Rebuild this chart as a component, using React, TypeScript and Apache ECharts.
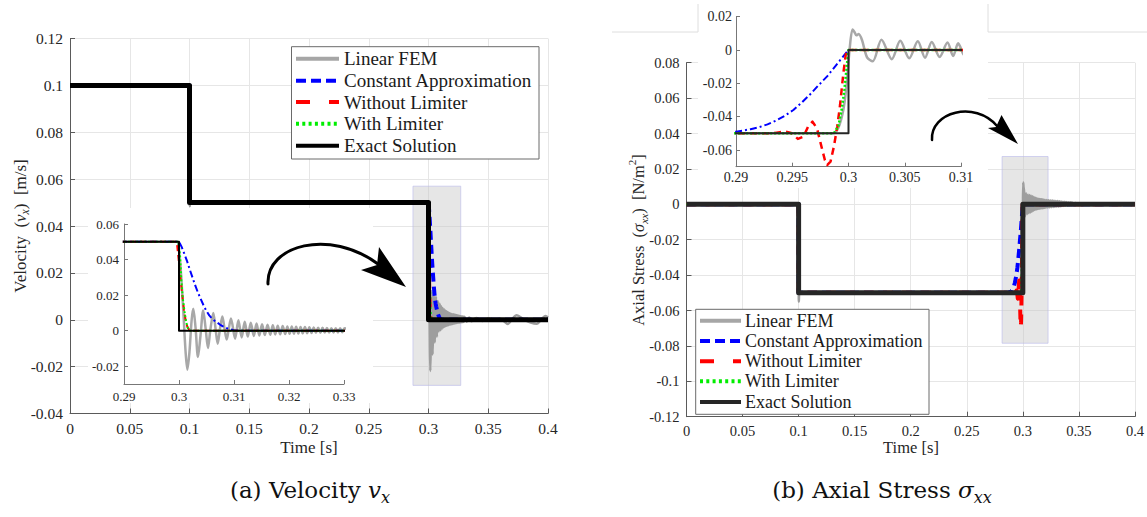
import React, { useEffect, useRef } from "react";
import * as echarts from "echarts";

const FONT = "'Liberation Serif', 'DejaVu Serif', serif";
const CAP_FONT = "'DejaVu Serif', 'Liberation Serif', serif";

// ---------- Data: Velocity v_x ----------
const velExact = [[0, 0.1], [0.1, 0.1], [0.1, 0.05], [0.3, 0.05], [0.3, 0], [0.4, 0]];
const velFEM = [
  [0, 0.1], [0.0998, 0.1], [0.1002, 0.0485], [0.1006, 0.0505], [0.101, 0.0497], [0.1015, 0.05],
  [0.2996, 0.05], [0.2999, 0.048], [0.3003, 0.035], [0.3008, 0.01], [0.3012, -0.012], [0.30152, -0.0219],
  [0.3019, -0.012], [0.3023, 0.006], [0.3026, 0.0123], [0.303, 0.002], [0.30345, -0.0148], [0.3039, -0.003],
  [0.3044, 0.0114], [0.30485, 0.001], [0.30527, -0.0097], [0.3057, 0.0005], [0.30624, 0.0099], [0.30665, 0.001],
  [0.30703, -0.0073], [0.30745, 0.001], [0.30788, 0.008], [0.30828, 0.001], [0.30867, -0.005], [0.30905, 0.001],
  [0.30945, 0.0069], [0.3102, -0.0045], [0.3108, 0.0058], [0.3114, -0.0038], [0.31195, 0.005], [0.3125, -0.0033],
  [0.31305, 0.0045], [0.3136, -0.003], [0.3141, 0.004], [0.3146, -0.0027], [0.3151, 0.0036], [0.3156, -0.0025],
  [0.3161, 0.0033], [0.3166, -0.0023], [0.31705, 0.003], [0.3175, -0.0021], [0.31795, 0.0028], [0.3184, -0.002],
  [0.31885, 0.0026], [0.3193, -0.0019], [0.3197, 0.0024], [0.3201, -0.0018], [0.3205, 0.0023], [0.3209, -0.0017],
  [0.3213, 0.0022], [0.3217, -0.0016], [0.3221, 0.0021], [0.3225, -0.0015], [0.3229, 0.002], [0.3233, -0.0014],
  [0.3237, 0.0019], [0.3241, -0.0013], [0.3245, 0.0018], [0.3249, -0.0012], [0.3253, 0.0017], [0.3257, -0.0012],
  [0.3261, 0.0016], [0.3265, -0.0011], [0.3269, 0.0015], [0.3273, -0.0011], [0.3277, 0.0014], [0.3281, -0.001],
  [0.3285, 0.0014], [0.3289, -0.001], [0.3293, 0.0013], [0.3297, -0.0009], [0.3301, 0.0013], [0.332, -0.0008],
  [0.334, 0.001], [0.336, -0.0006], [0.34, 0.0008], [0.345, -0.0005], [0.35, 0.0006], [0.355, 0], [0.36, 0.0004],
  [0.3665, -0.0018], [0.37, 0.0003], [0.3738, 0.0019], [0.38, 0], [0.3855, -0.0012], [0.3905, -0.0017],
  [0.395, 0.0005], [0.398, 0.0016], [0.4, 0.001],
];
const velConst = [
  [0, 0.1], [0.1, 0.1], [0.1, 0.05], [0.3, 0.05], [0.3005, 0.047], [0.301, 0.043], [0.3015, 0.0388],
  [0.302, 0.034], [0.3025, 0.0295], [0.303, 0.025], [0.3035, 0.021], [0.304, 0.0175], [0.3045, 0.014],
  [0.305, 0.011], [0.3055, 0.0086], [0.306, 0.0068], [0.3065, 0.0055], [0.307, 0.0044], [0.3075, 0.0033],
  [0.308, 0.0024], [0.3085, 0.0016], [0.309, 0.001], [0.31, 0.0003], [0.3112, 0], [0.4, 0],
];
const velNoLim = [
  [0, 0.1], [0.1, 0.1], [0.1, 0.05], [0.2996, 0.05], [0.2998, 0.044], [0.3, 0.038], [0.3003, 0.0286],
  [0.3006, 0.02], [0.3009, 0.0118], [0.3012, 0.006], [0.3015, 0.0024], [0.3018, 0.0008], [0.3021, 0], [0.4, 0],
];
const velLim = [
  [0, 0.1], [0.1, 0.1], [0.1, 0.05], [0.2999, 0.05], [0.3002, 0.042], [0.30042, 0.0286], [0.3007, 0.018],
  [0.301, 0.0108], [0.3013, 0.005], [0.3016, 0.0015], [0.302, 0], [0.4, 0],
];
const velZoomBox = [[0.287, -0.028], [0.327, 0.057]];

// ---------- Data: Axial stress sigma_xx ----------
const strExact = [[0, 0], [0.1, 0], [0.1, -0.05], [0.3, -0.05], [0.3, 0], [0.4, 0]];
const strFEM = [
  [0, 0], [0.0998, 0], [0.1002, -0.055], [0.1006, -0.0495], [0.101, -0.0503], [0.1015, -0.05],
  [0.2986, -0.05], [0.2991, -0.0466], [0.29955, -0.0356], [0.29985, -0.0195], [0.3001, 0.0006],
  [0.30036, 0.0123], [0.30054, 0.0107], [0.3007, 0.0088], [0.3009, 0.0096], [0.3012, 0.006],
  [0.30165, -0.0044], [0.30215, -0.0068], [0.30293, 0.0062], [0.30385, -0.0055], [0.3046, 0.0055],
  [0.3054, -0.005], [0.30616, 0.0052], [0.3068, -0.0046], [0.3074, 0.0048], [0.3081, -0.0042],
  [0.3088, 0.0045], [0.3093, -0.0036], [0.30975, 0.004], [0.3103, -0.0032], [0.3108, 0.0038],
  [0.3113, -0.003], [0.3118, 0.0035], [0.3123, -0.0028], [0.3128, 0.0033], [0.3133, -0.0026],
  [0.3138, 0.0031], [0.3143, -0.0025], [0.3148, 0.003], [0.3153, -0.0024], [0.3158, 0.0029],
  [0.3163, -0.0023], [0.3168, 0.0028], [0.3173, -0.0022], [0.3178, 0.0027], [0.3183, -0.0021],
  [0.3188, 0.0026], [0.3193, -0.002], [0.3198, 0.0025], [0.3206, -0.0019], [0.3214, 0.0024],
  [0.3222, -0.0018], [0.323, 0.0023], [0.3238, -0.0017], [0.3246, 0.0022], [0.3254, -0.0016],
  [0.3262, 0.0021], [0.327, -0.0015], [0.3278, 0.002], [0.3286, -0.0014], [0.3294, 0.0019],
  [0.3302, -0.0013], [0.331, 0.0018], [0.3318, -0.0012], [0.3326, 0.0017], [0.3334, -0.0011],
  [0.3342, 0.0016], [0.335, -0.001], [0.3358, 0.0015], [0.3366, -0.0009], [0.3374, 0.0014],
  [0.3382, -0.0008], [0.339, 0.0013], [0.3398, -0.0007], [0.3406, 0.0012], [0.3414, -0.0006],
  [0.3422, 0.0011], [0.343, -0.0005], [0.3438, 0.001], [0.345, -0.0004], [0.347, 0.0008],
  [0.35, -0.0003], [0.355, 0.0004], [0.36, 0], [0.4, 0],
];
const strConst = [
  [0, 0], [0.1, 0], [0.1, -0.05], [0.2865, -0.05], [0.288, -0.0496], [0.29, -0.049], [0.2906, -0.0483],
  [0.2913, -0.0475], [0.2921, -0.0462], [0.2928, -0.0446], [0.2936, -0.0422], [0.2943, -0.0396],
  [0.2951, -0.036], [0.2958, -0.0318], [0.2966, -0.0265], [0.2973, -0.0214], [0.2981, -0.0158],
  [0.2988, -0.0099], [0.2994, -0.0049], [0.3, 0], [0.4, 0],
];
const strNoLim = [
  [0, 0], [0.1, 0], [0.1, -0.05], [0.2925, -0.05], [0.2935, -0.0497], [0.2943, -0.0488], [0.2949, -0.0498],
  [0.2955, -0.0533], [0.296, -0.052], [0.2964, -0.046], [0.2968, -0.043], [0.2972, -0.047], [0.2976, -0.058],
  [0.2979, -0.066], [0.2981, -0.069], [0.2984, -0.067], [0.2987, -0.058], [0.299, -0.046], [0.29925, -0.033],
  [0.29955, -0.0135], [0.29975, -0.003], [0.2999, 0], [0.4, 0],
];
const strLim = [
  [0, 0], [0.1, 0], [0.1, -0.05], [0.2987, -0.05], [0.2991, -0.0456], [0.2994, -0.0356], [0.29964, -0.0235],
  [0.29985, -0.0094], [0.3, 0], [0.4, 0],
];
const strZoomBox = [[0.2815, -0.0785], [0.3225, 0.027]];

// ---------- Ticks and labels ----------
const velInsetXTicks = [0.29, 0.3, 0.31, 0.32, 0.33];
const velInsetYTicks = [-0.02, 0, 0.02, 0.04, 0.06];
const strInsetXTicks = [0.29, 0.295, 0.3, 0.305, 0.31];
const strInsetYTicks = [-0.06, -0.04, -0.02, 0, 0.02];
const legendNames = ["Linear FEM", "Constant Approximation", "Without Limiter", "With Limiter", "Exact Solution"];

const GRAY = "#9e9e9e";
const BLUE = "#0000ff";
const RED = "#ff0000";
const GREEN = "#00ee00";

const fmt = (v: number) => String(parseFloat(Number(v).toFixed(4)));

function mainX(gridIndex: number, fs: number) {
  return {
    type: "value", gridIndex, min: 0, max: 0.4, interval: 0.05,
    axisLine: { show: true, onZero: false, lineStyle: { color: "#5a5a5a", width: 1 } },
    axisTick: { show: true, inside: true, length: 5, lineStyle: { color: "#5a5a5a" } },
    axisLabel: { color: "#262626", fontFamily: FONT, fontSize: fs, margin: 7, formatter: fmt },
    splitLine: { show: true, lineStyle: { color: "#e6e6e6", width: 1 } },
  };
}
function mainY(gridIndex: number, min: number, max: number, fs: number) {
  return {
    type: "value", gridIndex, min, max, interval: 0.02,
    axisLine: { show: true, onZero: false, lineStyle: { color: "#5a5a5a", width: 1 } },
    axisTick: { show: true, inside: true, length: 5, lineStyle: { color: "#5a5a5a" } },
    axisLabel: { color: "#262626", fontFamily: FONT, fontSize: fs, margin: 7, formatter: fmt },
    splitLine: { show: true, lineStyle: { color: "#e6e6e6", width: 1 } },
  };
}
function insetAxis(gridIndex: number, min: number, max: number, ticks: number[], fs: number, margin: number) {
  return {
    type: "value", gridIndex, min, max, z: 3,
    axisLine: { show: true, onZero: false, lineStyle: { color: "#777", width: 1 } },
    axisTick: { show: true, inside: true, length: 4, customValues: ticks, lineStyle: { color: "#777" } },
    axisLabel: { color: "#262626", fontFamily: FONT, fontSize: fs, margin, customValues: ticks, formatter: fmt },
    splitLine: { show: false },
  };
}
function ln(data: number[][], idx: number, color: string, width: number, type: any, z: number, smooth: any = false) {
  return {
    type: "line", xAxisIndex: idx, yAxisIndex: idx, data, symbol: "none", showSymbol: false,
    smooth, z, silent: true, clip: true, animation: false,
    lineStyle: { color, width, type, cap: "butt", join: "round" },
    emphasis: { disabled: true },
  };
}
function boxSeries(idx: number, box: number[][]) {
  return {
    type: "line", xAxisIndex: idx, yAxisIndex: idx, data: [], z: 1, silent: true,
    markArea: {
      silent: true, label: { show: false },
      itemStyle: { color: "rgba(200,200,200,0.45)", borderColor: "rgba(185,185,235,0.6)", borderWidth: 1 },
      data: [[{ coord: box[0] }, { coord: box[1] }]],
    },
  };
}

function legendGraphics(x: number, y: number, w: number, h: number, rows: number[], sx1: number, sx2: number,
  tx: number, fs: number, black: string) {
  const styles = [
    { stroke: "#a6a6a6", lineDash: null },
    { stroke: BLUE, lineDash: [10, 5] },
    { stroke: RED, lineDash: [14, 19] },
    { stroke: GREEN, lineDash: [3, 3.3] },
    { stroke: black, lineDash: null },
  ];
  const els: any[] = [
    { type: "rect", shape: { x, y, width: w, height: h }, style: { fill: "#fff", stroke: "#6a6a6a", lineWidth: 1 }, z: 20, silent: true },
  ];
  legendNames.forEach((name, i) => {
    els.push({
      type: "line", z: 21, silent: true,
      shape: { x1: sx1, y1: rows[i], x2: sx2, y2: rows[i] },
      style: { stroke: styles[i].stroke, lineWidth: 4, lineDash: styles[i].lineDash, lineCap: "butt" },
    });
    els.push({
      type: "text", z: 21, silent: true, x: tx, y: rows[i],
      style: { text: name, fontFamily: FONT, fontSize: fs, fill: "#1a1a1a", align: "left", verticalAlign: "middle" },
    });
  });
  return els;
}

const richBase = (fs: number) => ({
  n: { fontFamily: FONT, fontSize: fs, fill: "#262626", lineHeight: fs + 6 },
  i: { fontFamily: FONT, fontSize: fs, fontStyle: "italic", fill: "#262626", lineHeight: fs + 6 },
  s: { fontFamily: FONT, fontSize: fs * 0.68, fontStyle: "italic", fill: "#262626", verticalAlign: "bottom", lineHeight: fs + 6 },
  p: { fontFamily: FONT, fontSize: fs * 0.68, fill: "#262626", verticalAlign: "top", lineHeight: fs * 0.9 },
});
const capRich = (fs: number) => ({
  n: { fontFamily: CAP_FONT, fontSize: fs, fill: "#111", lineHeight: fs + 8 },
  i: { fontFamily: CAP_FONT, fontSize: fs, fontStyle: "italic", fill: "#111", lineHeight: fs + 8 },
  s: { fontFamily: CAP_FONT, fontSize: fs * 0.7, fontStyle: "italic", fill: "#111", verticalAlign: "bottom", lineHeight: fs + 8 },
});

export default function App() {
  const ref = useRef<HTMLDivElement>(null);
  useEffect(() => {
    if (!ref.current) return;
    const chart = echarts.init(ref.current, null, { renderer: "svg" });
    const option: any = {
      animation: false,
      backgroundColor: "#ffffff",
      grid: [
        { left: 70, top: 38.5, width: 478, height: 375 },
        { left: 124, top: 224, width: 220, height: 160 },
        { left: 686.5, top: 62.7, width: 449, height: 354 },
        { left: 736, top: 16.7, width: 225, height: 150 },
      ],
      xAxis: [
        mainX(0, 15.5),
        insetAxis(1, 0.29, 0.33, velInsetXTicks, 13, 6),
        mainX(2, 14.5),
        insetAxis(3, 0.29, 0.31, strInsetXTicks, 14, 4),
      ],
      yAxis: [
        mainY(0, -0.04, 0.12, 15.5),
        insetAxis(1, -0.03, 0.06, velInsetYTicks, 13, 5),
        mainY(2, -0.12, 0.08, 14.5),
        insetAxis(3, -0.07, 0.02, strInsetYTicks, 14, 4),
      ],
      series: [
        boxSeries(0, velZoomBox),
        ln(velFEM, 0, GRAY, 2.5, "solid", 2, 0.3),
        ln(velConst, 0, BLUE, 4, [9, 5], 3),
        ln(velNoLim, 0, RED, 3.5, [10, 9], 3),
        ln(velLim, 0, GREEN, 3, [2, 3], 3),
        ln(velExact, 0, "#000", 5, "solid", 5),

        ln(velFEM, 1, "#a8a8a8", 2.5, "solid", 6, 0.3),
        ln(velConst, 1, BLUE, 2, [7, 3, 2, 3], 7),
        ln(velNoLim, 1, RED, 2, [6, 4], 7),
        ln(velLim, 1, GREEN, 2, [2, 2], 7),
        ln(velExact, 1, "#000", 2, "solid", 8),

        boxSeries(2, strZoomBox),
        ln(strFEM, 2, GRAY, 2.5, "solid", 2, 0.3),
        ln(strConst, 2, BLUE, 4, [9, 5], 3),
        ln(strNoLim, 2, RED, 4, [10, 9], 3),
        ln(strLim, 2, GREEN, 3, [2, 3], 3),
        ln(strExact, 2, "#262626", 5, "solid", 5),

        ln(strFEM, 3, "#a8a8a8", 2.5, "solid", 6, 0.3),
        ln(strConst, 3, BLUE, 2, [7, 3, 2, 3], 7),
        ln(strNoLim, 3, RED, 2.5, [7, 5], 7),
        ln(strLim, 3, GREEN, 2.5, [2, 2], 7),
        ln(strExact, 3, "#262626", 2, "solid", 8),
      ],
      graphic: [
        // inset backgrounds
        { type: "rect", z: 1, silent: true, shape: { x: 88, y: 208, width: 285, height: 195 }, style: { fill: "#fff" } },
        { type: "rect", z: 1, silent: true, shape: { x: 698, y: 0, width: 290, height: 188 }, style: { fill: "#fff" } },
        // faint frame lines at top right
        { type: "line", z: 1, silent: true, shape: { x1: 612, y1: 32, x2: 698, y2: 32 }, style: { stroke: "#dedede", lineWidth: 1 } },
        { type: "line", z: 1, silent: true, shape: { x1: 698, y1: 4, x2: 698, y2: 32 }, style: { stroke: "#dedede", lineWidth: 1 } },
        { type: "line", z: 1, silent: true, shape: { x1: 988, y1: 4, x2: 988, y2: 32 }, style: { stroke: "#dedede", lineWidth: 1 } },
        { type: "line", z: 1, silent: true, shape: { x1: 988, y1: 32, x2: 1147, y2: 32 }, style: { stroke: "#dedede", lineWidth: 1 } },
        // arrows
        {
          type: "bezierCurve", z: 15, silent: true,
          shape: { x1: 268, y1: 284, cpx1: 266, cpy1: 245, cpx2: 330, cpy2: 228, x2: 378, y2: 264 },
          style: { stroke: "#000", lineWidth: 3, fill: null, lineCap: "round" },
        },
        { type: "polygon", z: 15, silent: true, shape: { points: [[406, 287], [379, 247], [377, 265], [361, 270]] }, style: { fill: "#000" } },
        {
          type: "bezierCurve", z: 15, silent: true,
          shape: { x1: 932, y1: 140, cpx1: 930, cpy1: 112, cpx2: 975, cpy2: 100, x2: 997, y2: 126 },
          style: { stroke: "#000", lineWidth: 2.5, fill: null, lineCap: "round" },
        },
        { type: "polygon", z: 15, silent: true, shape: { points: [[1018, 144], [1001.5, 115], [996, 127], [988, 128]] }, style: { fill: "#000" } },
        // legends
        ...legendGraphics(291.5, 46.7, 247.5, 112.3, [58.7, 80.7, 102, 123.7, 145.7], 296, 339, 344, 19, "#000"),
        ...legendGraphics(695.7, 309.3, 233.3, 105, [320.7, 341, 361.3, 381.3, 402], 700, 741, 745, 18, "#262626"),
        // axis titles
        {
          type: "text", z: 20, silent: true, x: 20, y: 226, rotation: Math.PI / 2,
          style: { text: "{n|Velocity  (}{i|v}{s|x}{n|)  [m/s]}", rich: richBase(17), align: "center", verticalAlign: "middle" },
        },
        {
          type: "text", z: 20, silent: true, x: 309, y: 447,
          style: { text: "Time [s]", fontFamily: FONT, fontSize: 17, fill: "#262626", align: "center", verticalAlign: "middle" },
        },
        {
          type: "text", z: 20, silent: true, x: 638, y: 240, rotation: Math.PI / 2,
          style: { text: "{n|Axial Stress  (}{i|σ}{s|xx}{n|)  [N/m}{p|2}{n|]}", rich: richBase(16.5), align: "center", verticalAlign: "middle" },
        },
        {
          type: "text", z: 20, silent: true, x: 911, y: 447,
          style: { text: "Time [s]", fontFamily: FONT, fontSize: 16.5, fill: "#262626", align: "center", verticalAlign: "middle" },
        },
        // captions
        {
          type: "text", z: 20, silent: true, x: 310, y: 490,
          style: { text: "{n|(a) Velocity }{i|v}{s|x}", rich: capRich(23), align: "center", verticalAlign: "middle" },
        },
        {
          type: "text", z: 20, silent: true, x: 882, y: 490,
          style: { text: "{n|(b) Axial Stress }{i|σ}{s|xx}", rich: capRich(23), align: "center", verticalAlign: "middle" },
        },
      ],
    };
    chart.setOption(option);
    return () => chart.dispose();
  }, []);
  return <div ref={ref} style={{ position: "absolute", left: 0, top: 0, width: 1147, height: 517, background: "#fff" }} />;
}
